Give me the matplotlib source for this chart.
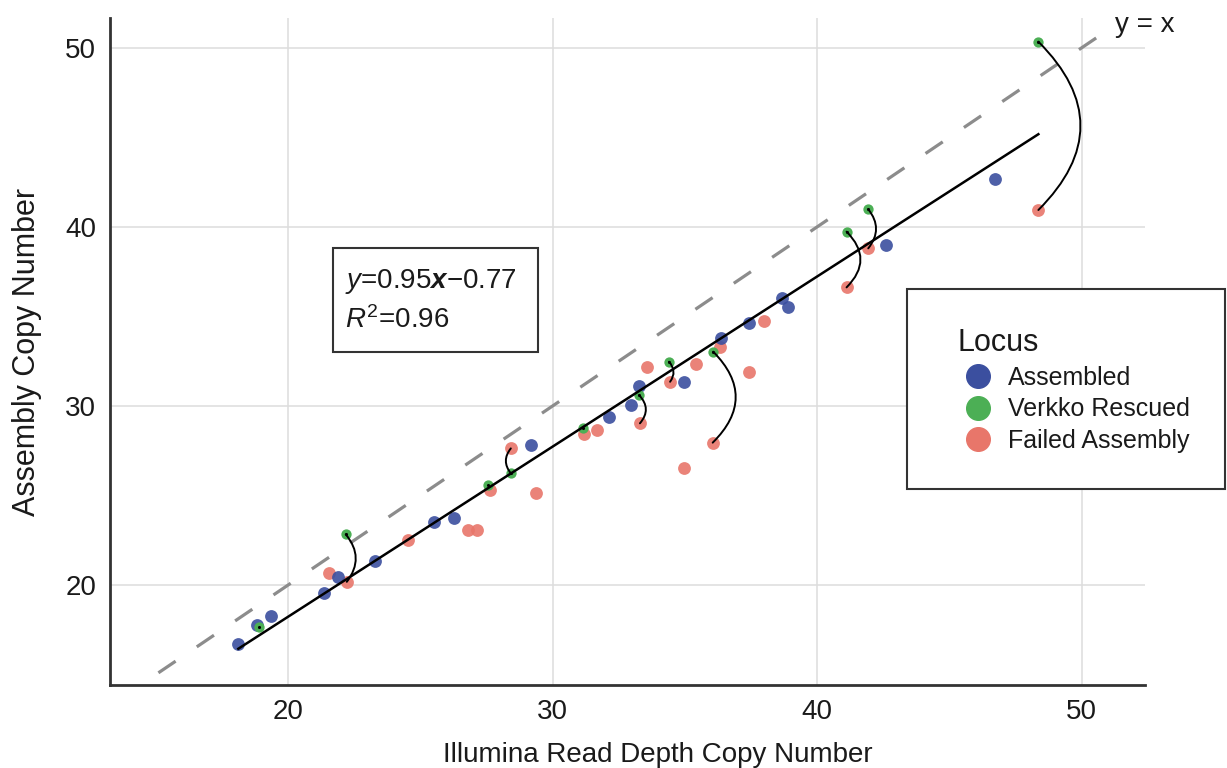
import numpy as np
import matplotlib
matplotlib.use('Agg')
import matplotlib.pyplot as plt
from matplotlib.patches import FancyArrowPatch, Rectangle
from matplotlib.lines import Line2D

plt.rcParams['font.family'] = ['Liberation Sans', 'DejaVu Sans']
plt.rcParams['mathtext.fontset'] = 'custom'
plt.rcParams['mathtext.rm'] = 'Liberation Sans'
plt.rcParams['mathtext.it'] = 'Liberation Sans:italic'
plt.rcParams['mathtext.bf'] = 'Liberation Sans:bold'
plt.rcParams['mathtext.bfit'] = 'Liberation Sans:italic:bold'

# Assembled loci
assembled_x = [18.12, 18.82, 19.35, 21.36, 21.90, 23.29, 25.53, 26.27, 29.18, 32.14,
               32.95, 33.27, 34.98, 36.37, 37.43, 38.66, 38.91, 42.59, 46.72]
assembled_y = [16.69, 17.77, 18.27, 19.54, 20.46, 21.34, 23.53, 23.72, 27.82, 29.36,
               30.05, 31.13, 31.32, 33.79, 34.61, 36.00, 35.54, 38.98, 42.65]

# Verkko rescued loci
rescued_x = [18.92, 22.18, 27.57, 28.42, 31.16, 33.27, 34.40, 36.07, 41.11, 41.93, 48.36]
rescued_y = [17.67, 22.83, 25.58, 26.24, 28.78, 30.60, 32.47, 33.03, 39.73, 40.98, 50.34]

# Failed assembly loci
failed_x = [21.56, 22.22, 24.52, 26.81, 27.13, 27.63, 28.42, 29.36, 31.20, 31.67, 33.30,
            33.58, 34.44, 34.98, 35.42, 36.05, 36.33, 37.43, 37.99, 41.11, 41.93, 48.36]
failed_y = [20.65, 20.18, 22.51, 23.07, 23.07, 25.30, 27.63, 25.12, 28.43, 28.65, 29.03,
            32.15, 31.35, 26.52, 32.32, 27.95, 33.30, 31.91, 34.74, 36.62, 38.80, 40.94]

# same locus: rescued point -> failed point, with arc bend
pairs = [(1, 1), (3, 6), (5, 10), (6, 12), (7, 15), (8, 19), (9, 20), (10, 21)]
bends = [-0.4, -0.4, -0.45, -0.4, -0.5, -0.5, -0.4, -0.5]

# fit shown in the box
slope = 0.95
intercept = -0.77

col_blue = '#3B4F9F'
col_green = '#4CAF55'
col_red = '#E8766A'
txt = '#1a1a1a'

fig = plt.figure(figsize=(12.27, 7.68), dpi=100)
ax = fig.add_axes([110 / 1227, 1 - 685 / 768, 1035 / 1227, 667 / 768])

# y = x reference
ref = np.array([15.1, 50.9])
ax.plot(ref, ref, color='#8c8c8c', lw=2.3, dashes=(6.5, 8), zorder=2)
ax.text(51.25, 51.27, 'y = x', fontsize=20, va='center', ha='left', color=txt, clip_on=False)

ax.scatter(failed_x, failed_y, s=85, color=col_red, alpha=0.9, lw=0, zorder=3)
ax.scatter(assembled_x, assembled_y, s=85, color=col_blue, alpha=0.9, lw=0, zorder=4)
ax.scatter(rescued_x, rescued_y, s=55, color=col_green, lw=0, zorder=5)
ax.scatter(rescued_x, rescued_y, s=5, color='black', lw=0, zorder=6)

# regression line over the data range
all_x = np.concatenate([assembled_x, rescued_x, failed_x])
fx = np.array([all_x.min(), all_x.max()])
ax.plot(fx, slope * fx + intercept, color='black', lw=1.8, zorder=6)

# arcs between rescued and failed copies
for (gi, ri), rad in zip(pairs, bends):
    arc = FancyArrowPatch((rescued_x[gi], rescued_y[gi]), (failed_x[ri], failed_y[ri]),
                          arrowstyle='-', connectionstyle='arc3,rad=%s' % rad,
                          color='black', lw=1.4, shrinkA=0, shrinkB=0, zorder=7)
    ax.add_patch(arc)

ax.set_xlim(13.27, 52.39)
ax.set_ylim(14.42, 51.66)
ax.set_xticks([20, 30, 40, 50])
ax.set_yticks([20, 30, 40, 50])
ax.grid(True, color='#dddddd', lw=1.1, zorder=0)
ax.set_axisbelow(True)
ax.tick_params(length=0, labelsize=20, colors=txt, pad=10)
for s in ['top', 'right']:
    ax.spines[s].set_visible(False)
for s in ['left', 'bottom']:
    ax.spines[s].set_color('#333333')
    ax.spines[s].set_linewidth(2)

ax.set_xlabel('Illumina Read Depth Copy Number', fontsize=20, color=txt)
ax.set_ylabel('Assembly Copy Number', fontsize=22, color=txt)
ax.xaxis.set_label_coords(0.5295, -0.085)
ax.yaxis.set_label_coords(-0.066, 0.5)

# equation box
fig.add_artist(Rectangle((333 / 1227, 1 - 352 / 768), 205 / 1227, 104 / 768,
                         transform=fig.transFigure, fc='white', ec='#333333', lw=1.5))
fig.text(345 / 1227, 1 - 282 / 768, r'$\mathit{y}$=0.95$\mathbfit{x}$−0.77',
         fontsize=20, va='center', ha='left', color=txt)
fig.text(345 / 1227, 1 - 320 / 768, r'$\mathit{R}^{2}$=0.96',
         fontsize=20, va='center', ha='left', color=txt)

# legend box
fig.add_artist(Rectangle((907 / 1227, 1 - 489 / 768), 318 / 1227, 200 / 768,
                         transform=fig.transFigure, fc='white', ec='#333333', lw=1.5))
handles = [Line2D([], [], ls='none', marker='o', ms=17, color=col_blue),
           Line2D([], [], ls='none', marker='o', ms=17, color=col_green),
           Line2D([], [], ls='none', marker='o', ms=17, color=col_red)]
leg = fig.legend(handles, ['Assembled', 'Verkko Rescued', 'Failed Assembly'],
                 title='Locus', title_fontsize=22, fontsize=18, frameon=False,
                 loc='upper left', bbox_to_anchor=(945 / 1227, 1 - 316 / 768),
                 borderpad=0.5, borderaxespad=0, labelspacing=0.3, handlelength=1.6,
                 handletextpad=0.4, alignment='left')
for t in leg.get_texts():
    t.set_color(txt)
leg.get_title().set_color(txt)

fig.savefig('out.png', dpi=100)
